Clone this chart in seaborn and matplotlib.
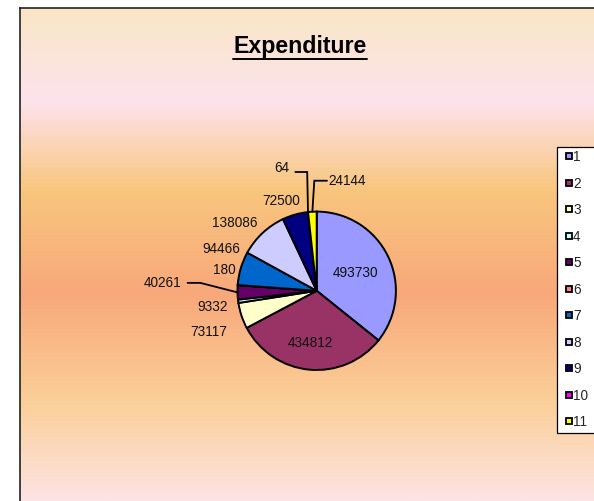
import matplotlib
matplotlib.use("Agg")
import matplotlib.pyplot as plt
import seaborn as sns
import numpy as np
from matplotlib.colors import LinearSegmentedColormap
from matplotlib.patches import Rectangle
from matplotlib.lines import Line2D

# data
categories = ["1", "2", "3", "4", "5", "6", "7", "8", "9", "10", "11"]
expenditure = [493730, 434812, 73117, 9332, 40261, 180, 94466, 138086, 72500, 64, 24144]
slice_colors = ["#9999FF", "#993366", "#FFFFCC", "#CCFFFF", "#660066", "#FF8080",
                "#0066CC", "#CCCCFF", "#000080", "#FF00FF", "#FFFF00"]

# label placement (in pie-radius units)
label_pos = [(0.49, 0.22), (-0.08, -0.66), (-1.36, -0.52), (-1.31, -0.20), (-1.95, 0.10),
             (-1.17, 0.26), (-1.21, 0.53), (-1.04, 0.86), (-0.45, 1.14), (-0.44, 1.55),
             (0.39, 1.39)]
# leader lines: slice index -> (start, elbow)
leaders = {4: ((-1.63, 0.10), (-1.47, 0.10)),
           9: ((-0.27, 1.50), (-0.12, 1.50)),
           10: ((0.13, 1.39), (-0.03, 1.39))}

sns.set_theme(style="white")
plt.rcParams["font.family"] = ["Liberation Sans", "DejaVu Sans"]

W, H = 594, 501
fig = plt.figure(figsize=(W / 100, H / 100), dpi=100)
fig.patch.set_facecolor("white")

# gradient chart area
grad = LinearSegmentedColormap.from_list("bg", [
    (0.0, "#FAE6C6"), (0.19, "#FDE3EC"), (0.37, "#F9C67E"),
    (0.58, "#F8A87A"), (0.80, "#FBCF98"), (1.0, "#FDE3E3")])
ax_bg = fig.add_axes([19.5 / W, 0, 1.0, (H - 7.5) / H])
ax_bg.imshow(np.linspace(0, 1, 256).reshape(-1, 1), cmap=grad, aspect="auto",
             extent=[0, 1, 0, 1], origin="upper")
ax_bg.set_xlim(0, 1)
ax_bg.set_ylim(0, 1)
ax_bg.set_xticks([])
ax_bg.set_yticks([])
for side in ["right", "bottom"]:
    ax_bg.spines[side].set_visible(False)
for side in ["left", "top"]:
    ax_bg.spines[side].set_color("#222222")
    ax_bg.spines[side].set_linewidth(1.2)

# pie
R = 79.2
cx, cy = 316.7, 290.8
half = 200
ax = fig.add_axes([(cx - half) / W, (H - cy - half) / H, 2 * half / W, 2 * half / H])
ax.patch.set_alpha(0)
wedges, _ = ax.pie(expenditure, colors=slice_colors, startangle=90, counterclock=False,
                   radius=1, wedgeprops=dict(edgecolor="black", linewidth=1.4))
ax.set_xlim(-half / R, half / R)
ax.set_ylim(-half / R, half / R)
ax.set_aspect("equal")
ax.axis("off")

for i, (w, val) in enumerate(zip(wedges, expenditure)):
    x, y = label_pos[i]
    ax.text(x, y, str(val), ha="center", va="center", fontsize=9.8, color="#111111")
    if i in leaders:
        mid = np.deg2rad((w.theta1 + w.theta2) / 2)
        start, elbow = leaders[i]
        ax.plot([start[0], elbow[0], np.cos(mid)], [start[1], elbow[1], np.sin(mid)],
                color="black", lw=1.3, clip_on=False, solid_joinstyle="miter")

# legend box
fig.add_artist(Rectangle((556.5 / W, 1 - 433 / H), 0.2, (433 - 146.7) / H,
                         transform=fig.transFigure, facecolor="white",
                         edgecolor="black", linewidth=0.9, zorder=1))
handles = [Line2D([], [], marker="s", linestyle="", markerfacecolor=c,
                  markeredgecolor="black", markersize=4.4, markeredgewidth=1.3)
           for c in slice_colors]
fig.legend(handles, categories, loc="upper left", bbox_to_anchor=(565.0 / W, 1 - 150.0 / H),
           frameon=False, fontsize=9.8, handlelength=0.55, handletextpad=0.05,
           labelspacing=0.92, borderpad=0, borderaxespad=0)

# title with underline
title = fig.text(300 / W, 1 - 47 / H, "Expenditure", ha="center", va="center",
                 fontsize=16.7, fontweight="bold", color="black")
fig.canvas.draw()
bb = title.get_window_extent(fig.canvas.get_renderer())
uy = 1 - 59.3 / H
fig.add_artist(Line2D([bb.x0 / W, bb.x1 / W], [uy, uy], transform=fig.transFigure,
                      color="black", lw=1.4))

fig.savefig("out.png", dpi=100)
